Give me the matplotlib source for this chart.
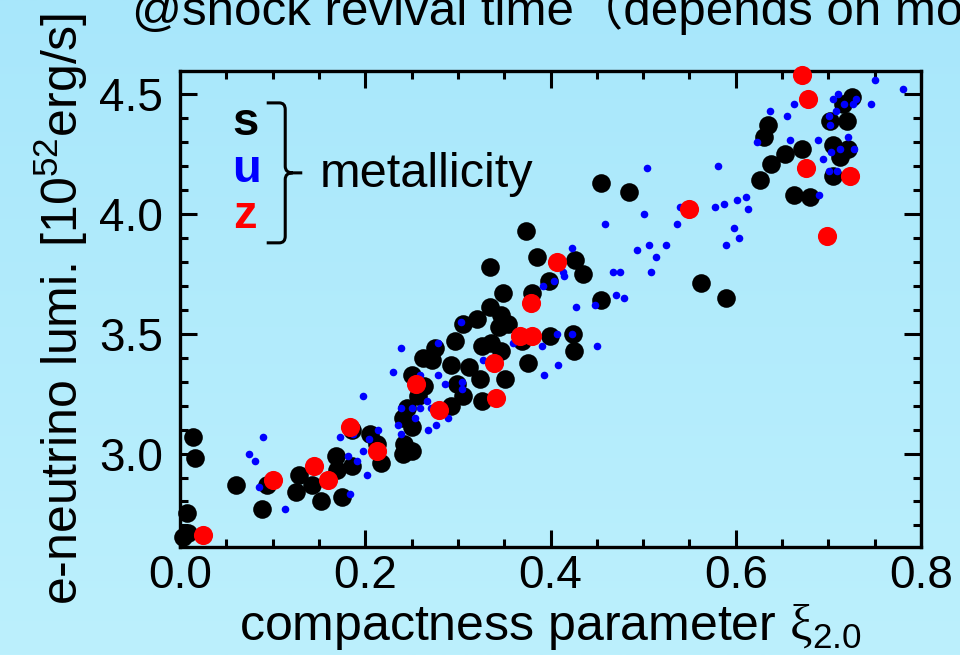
import numpy as np
import matplotlib
matplotlib.use("Agg")
import matplotlib.pyplot as plt
from matplotlib.colors import LinearSegmentedColormap
from matplotlib.path import Path
from matplotlib.patches import PathPatch
from matplotlib.ticker import MultipleLocator, FormatStrFormatter

plt.rcParams["font.family"] = ["Liberation Sans", "Noto Sans CJK JP", "DejaVu Sans"]
plt.rcParams["mathtext.fontset"] = "custom"
plt.rcParams["mathtext.rm"] = "Liberation Sans"
plt.rcParams["mathtext.sf"] = "Liberation Serif"
plt.rcParams["mathtext.default"] = "regular"

# solar metallicity (s)
s_xi = [0.014, 0.016, 0.008, 0.009, 0.003, 0.060, 0.089, 0.094, 0.128, 0.125,
        0.143, 0.152, 0.168, 0.169, 0.175, 0.186, 0.186, 0.205, 0.213, 0.217,
        0.241, 0.242, 0.250, 0.241, 0.245, 0.250, 0.257, 0.263, 0.250, 0.262,
        0.272, 0.275, 0.293, 0.293, 0.297, 0.299, 0.306, 0.306, 0.312, 0.321,
        0.324, 0.326, 0.326, 0.335, 0.347, 0.344, 0.354, 0.336, 0.347, 0.351,
        0.376, 0.369, 0.399, 0.374, 0.385, 0.335, 0.349, 0.380, 0.398, 0.426,
        0.435, 0.455, 0.455, 0.485, 0.563, 0.589, 0.626, 0.638, 0.653, 0.672,
        0.631, 0.635, 0.663, 0.680, 0.705, 0.712, 0.721, 0.705, 0.702, 0.720,
        0.716, 0.725, 0.424, 0.425]
s_lum = [3.07, 2.98, 2.75, 2.67, 2.65, 2.87, 2.77, 2.87, 2.91, 2.84,
         2.87, 2.80, 2.99, 2.93, 2.82, 2.95, 3.10, 3.08, 3.04, 2.96,
         3.00, 3.04, 3.01, 3.15, 3.19, 3.11, 3.24, 3.28, 3.33, 3.40,
         3.39, 3.44, 3.20, 3.37, 3.47, 3.29, 3.24, 3.54, 3.36, 3.56,
         3.31, 3.22, 3.45, 3.61, 3.58, 3.53, 3.54, 3.46, 3.43, 3.31,
         3.38, 3.47, 3.49, 3.93, 3.82, 3.78, 3.67, 3.67, 3.72, 3.81,
         3.75, 3.64, 4.13, 4.09, 3.71, 3.65, 4.14, 4.21, 4.25, 4.27,
         4.32, 4.37, 4.08, 4.07, 4.29, 4.24, 4.27, 4.16, 4.39, 4.39,
         4.46, 4.49, 3.50, 3.43]

# ultra metal-poor (u)
u_xi = [0.074, 0.081, 0.090, 0.085, 0.113, 0.173, 0.187, 0.181, 0.191, 0.184,
        0.198, 0.198, 0.202, 0.204, 0.214, 0.230, 0.239, 0.235, 0.239, 0.239,
        0.250, 0.254, 0.259, 0.259, 0.267, 0.268, 0.276, 0.271, 0.278, 0.279,
        0.286, 0.289, 0.303, 0.304, 0.304, 0.327, 0.360, 0.391, 0.393, 0.392,
        0.423, 0.413, 0.415, 0.404, 0.427, 0.448, 0.459, 0.467, 0.475, 0.471,
        0.479, 0.493, 0.506, 0.514, 0.525, 0.509, 0.501, 0.504, 0.537, 0.540,
        0.578, 0.587, 0.581, 0.601, 0.611, 0.613, 0.598, 0.604, 0.589, 0.623,
        0.637, 0.655, 0.659, 0.663, 0.689, 0.694, 0.690, 0.701, 0.702, 0.708,
        0.710, 0.705, 0.717, 0.727, 0.730, 0.721, 0.703, 0.712, 0.728, 0.701,
        0.709, 0.746, 0.750, 0.781, 0.407, 0.423, 0.408, 0.450]
u_lum = [3.00, 2.97, 3.07, 2.86, 2.77, 3.07, 3.08, 2.99, 2.97, 2.83,
         3.24, 3.01, 2.91, 3.06, 3.10, 3.34, 3.44, 3.12, 3.08, 3.19,
         3.19, 3.15, 3.19, 3.33, 3.22, 3.10, 3.12, 3.19, 3.46, 3.33,
         3.29, 3.15, 3.55, 3.30, 3.27, 3.39, 3.46, 3.45, 3.33, 3.70,
         3.86, 3.76, 3.74, 3.72, 3.61, 3.62, 3.96, 3.76, 3.76, 3.66,
         3.65, 3.85, 3.87, 3.82, 3.87, 3.76, 4.00, 4.19, 3.96, 4.03,
         4.03, 4.04, 4.20, 4.06, 4.07, 4.02, 3.94, 3.90, 3.87, 4.30,
         4.43, 4.41, 4.31, 4.46, 4.31, 4.23, 4.08, 4.41, 4.37, 4.43,
         4.50, 4.48, 4.46, 4.46, 4.48, 4.32, 4.26, 4.27, 4.27, 4.18,
         4.18, 4.46, 4.56, 4.52, 3.50, 3.50, 3.37, 3.45]

# zero metallicity (z)
z_xi = [0.025, 0.100, 0.145, 0.160, 0.183, 0.213, 0.255, 0.280, 0.339, 0.341,
        0.367, 0.380, 0.379, 0.407, 0.549, 0.671, 0.678, 0.676, 0.723, 0.698]
z_lum = [2.66, 2.89, 2.95, 2.89, 3.11, 3.01, 3.29, 3.18, 3.38, 3.23,
         3.49, 3.49, 3.63, 3.80, 4.02, 4.58, 4.48, 4.19, 4.16, 3.91]

fig = plt.figure(figsize=(9.6, 6.55), dpi=100)

# light blue gradient background
bg = fig.add_axes([0, 0, 1, 1], zorder=-10)
grad = np.linspace(0, 1, 256).reshape(-1, 1)
cmap = LinearSegmentedColormap.from_list("bg", ["#a8e7fb", "#bcf0fd"])
bg.imshow(grad, aspect="auto", cmap=cmap, extent=[0, 1, 0, 1])
bg.axis("off")

ax = fig.add_axes([0.1875, 0.1649, 0.7719, 0.7267])
ax.set_facecolor("none")

ax.scatter(s_xi, s_lum, s=180, c="black", linewidths=0, clip_on=False, zorder=3)
ax.scatter(u_xi, u_lum, s=30, c="#0000ff", linewidths=0, clip_on=False, zorder=4)
ax.scatter(z_xi, z_lum, s=190, c="#ff0000", linewidths=0, clip_on=False, zorder=5)

ax.set_xlim(0, 0.8)
ax.set_ylim(2.61, 4.597)
ax.xaxis.set_major_locator(MultipleLocator(0.2))
ax.xaxis.set_minor_locator(MultipleLocator(0.05))
ax.yaxis.set_major_locator(MultipleLocator(0.5))
ax.yaxis.set_minor_locator(MultipleLocator(0.1))
ax.xaxis.set_major_formatter(FormatStrFormatter("%.1f"))
ax.yaxis.set_major_formatter(FormatStrFormatter("%.1f"))
ax.tick_params(which="both", direction="in", top=True, right=True, width=2.2,
               labelsize=33)
ax.tick_params(which="major", length=12)
ax.tick_params(which="minor", length=6)
ax.tick_params(axis="x", pad=5)
ax.tick_params(axis="y", pad=12)
for sp in ax.spines.values():
    sp.set_linewidth(2.4)

# metallicity key
ax.text(0.088, 0.866, "s", transform=ax.transAxes, fontsize=34, fontweight="bold",
        color="black", ha="center", va="baseline")
ax.text(0.090, 0.767, "u", transform=ax.transAxes, fontsize=34, fontweight="bold",
        color="#0000ff", ha="center", va="baseline")
ax.text(0.088, 0.670, "z", transform=ax.transAxes, fontsize=34, fontweight="bold",
        color="#ff0000", ha="center", va="baseline")
ax.text(0.189, 0.756, "metallicity", transform=ax.transAxes, fontsize=35,
        ha="left", va="baseline")

verts = [(0.117, 0.933), (0.134, 0.933), (0.142, 0.933), (0.142, 0.919),
         (0.142, 0.800), (0.142, 0.786), (0.152, 0.786), (0.165, 0.786),
         (0.152, 0.786), (0.142, 0.786), (0.142, 0.772),
         (0.142, 0.653), (0.142, 0.639), (0.134, 0.639), (0.117, 0.639)]
codes = [Path.MOVETO, Path.LINETO, Path.CURVE3, Path.CURVE3,
         Path.LINETO, Path.CURVE3, Path.CURVE3, Path.LINETO,
         Path.MOVETO, Path.CURVE3, Path.CURVE3,
         Path.LINETO, Path.CURVE3, Path.CURVE3, Path.LINETO]
ax.add_patch(PathPatch(Path(verts, codes), transform=ax.transAxes, fill=False,
                       lw=2.2, edgecolor="black", clip_on=False))

fig.text(0.137, 0.962, "@shock revival time（depends on model）", fontsize=35.5,
         ha="left", va="baseline")
fig.text(0.573, 0.0229, r"compactness parameter $\mathsf{ξ}_{2.0}$", fontsize=36,
         ha="center", va="baseline")
fig.text(0.064, 0.528, r"e-neutrino lumi. [10$^{52}$erg/s]", fontsize=36,
         rotation=90, ha="center", va="center")

fig.savefig("out.png", dpi=100)
